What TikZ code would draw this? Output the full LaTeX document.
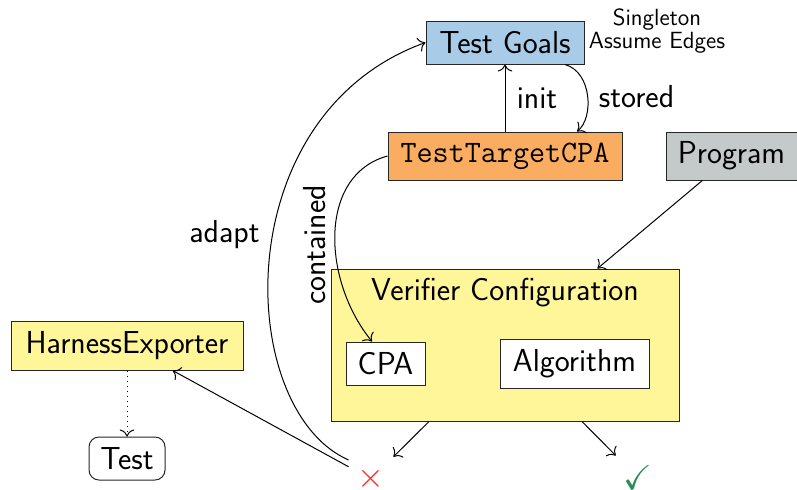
\documentclass[tikz,border=0pt]{standalone}
\usepackage{amssymb}
\usetikzlibrary{calc,arrows.meta}
\definecolor{tgblue}{RGB}{168,204,232}
\definecolor{tcorange}{RGB}{250,173,96}
\definecolor{proggray}{RGB}{196,201,201}
\definecolor{vcyellow}{RGB}{255,245,153}
\definecolor{okgreen}{RGB}{46,139,87}
\definecolor{failred}{RGB}{255,40,40}
\begin{document}
\begin{tikzpicture}[x=0.5pt,y=-0.5pt,
  every node/.style={font=\sffamily\fontsize{15.9}{19}\selectfont},
  boxnode/.style={draw=black!85,line width=0.5pt,inner sep=0pt,align=center},
  conn/.style={line width=0.5pt,-{To[scale=1.3]}},
  lbl/.style={inner sep=0pt}]
\useasboundingbox (0,0) rectangle (797,489);
% main boxes
\node[boxnode,fill=tgblue,minimum width=79pt,minimum height=21.5pt] (TG) at (505,42.5) {Test Goals};
\node[lbl,font=\sffamily\fontsize{11.7}{10.5}\selectfont,align=center] (SAE) at (657,31) {Singleton\\Assume Edges};
\node[boxnode,fill=tcorange,minimum width=117pt,minimum height=24pt,font=\ttfamily\fontsize{15.6}{18}\selectfont] (TTC) at (505,156) {TestTargetCPA};
\node[boxnode,fill=proggray,minimum width=65.5pt,minimum height=24pt] (Prog) at (731.5,156) {Program};
\node[boxnode,fill=vcyellow,minimum width=174pt,minimum height=76pt] (VC) at (505,345) {};
\node[lbl] (VCT) at (505,292.5) {Verifier Configuration};
\node[boxnode,fill=white,minimum width=39.5pt,minimum height=21.5pt] (CPA) at (385.5,363.5) {CPA};
\node[boxnode,fill=white,minimum width=74.5pt,minimum height=24.5pt] (Alg) at (574.5,363.5) {Algorithm};
\node[boxnode,fill=vcyellow,minimum width=116pt,minimum height=24.5pt] (HE) at (127,345.5) {HarnessExporter};
\node[boxnode,rounded corners=5pt,fill=white,minimum width=38pt,minimum height=21.5pt] (Test) at (127,458.5) {Test};
% results
\node[inner sep=0pt,minimum size=22pt,text=failred] (fail) at (371,479) {$\times$};
\node[inner sep=0pt,minimum size=22pt,text=okgreen] (ok) at (638,478) {\LARGE$\checkmark$};
% connectors
\draw[conn] (TTC) -- (TG);
\node[lbl] (initl) at (537,98.5) {init};
\draw[conn] ($(TG.south)+(60,0)$) .. controls (592,72) and (594,118) .. ($(TTC.north)+(72,0)$);
\node[lbl] (storedl) at (636.5,97) {stored};
\draw[conn] (TTC.west) .. controls (318,175) and (322,280) .. ($(CPA.north)+(-13.5,0)$);
\node[lbl,rotate=90] (containedl) at (315,245) {contained};
\draw[conn] (Prog) -- ($(VC.north)!0.53!(VC.north east)$);
\draw[conn] ($(VC.south)+(-76,0)$) -- (fail);
\draw[conn] ($(VC.south)+(77,0)$) -- (ok);
\draw[conn] (fail) -- (HE);
\draw[conn] ($(fail.west)+(0,-19)$) .. controls (235,410) and (225,115) .. (TG.west);
\node[lbl] (adaptl) at (224.5,234.5) {adapt};
\draw[conn,dotted] (HE) -- (Test);
\end{tikzpicture}
\end{document}
